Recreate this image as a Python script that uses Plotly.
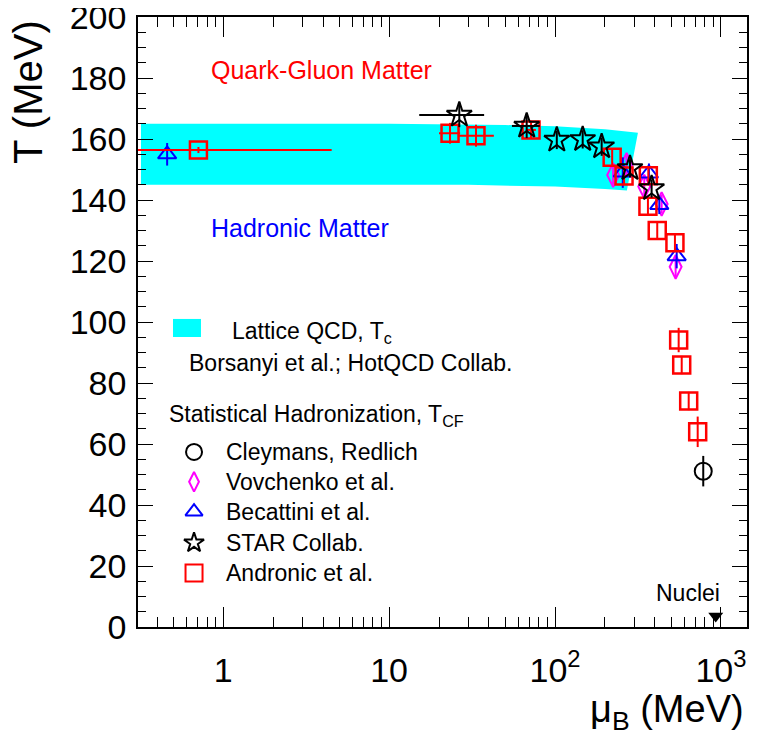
import numpy as np
import plotly.graph_objects as go

# ---------------- data ----------------
# Lattice QCD band (upper edge left->right, lower edge right->left)
band_mu_upper = [0.32, 10, 50, 100, 200, 316]
band_T_upper = [165.0, 165.0, 164.6, 164.2, 163.2, 162.1]
band_mu_lower = [271, 200, 100, 30, 0.32]
band_T_lower = [143.1, 143.6, 144.4, 145.0, 145.0]

# Andronic et al.
andr_mu = [0.71, 23.3, 33.4, 71.7, 221, 260.6, 365, 363, 413, 528, 556, 580, 639, 724]
andr_T = [156.4, 161.9, 161.1, 163.0, 154.0, 147.9, 148.0, 138.0, 130.0, 126.0, 94.1, 85.9, 74.1, 64.0]
andr_Terr = [1, 3.4, 3.6, 3, 3, 3, 3, 3, 3, 3, 4, 3, 3, 5]
andr_mu_errp = [3.8, 3.5, 9.4, 5, 0, 0, 0, 0, 0, 0, 0, 0, 0, 0]
andr_mu_errm = [0.70, 3.3, 7.4, 5, 0, 0, 0, 0, 0, 0, 0, 0, 0, 0]

# STAR Collab.
star_mu = [26.5, 67.5, 102.5, 146.8, 191, 283, 382]
star_T = [167.9, 164.3, 159.7, 159.9, 157.5, 150.4, 143.8]
star_Terr = [4, 4, 3, 3, 3, 3, 3]
star_mu_errp = [10.9, 13.5, 0, 0, 0, 0, 0]
star_mu_errm = [11.3, 12.5, 0, 0, 0, 0, 0]

# Becattini et al.
bec_mu = [0.46, 256, 368, 425, 541]
bec_T = [155.0, 149.0, 148.7, 138.4, 121.6]
bec_Terr = [3.7, 5, 3.3, 3, 4]

# Vovchenko et al.
vov_mu = [224, 270, 345, 439, 533]
vov_T = [148.2, 151.5, 144.4, 138.7, 118.1]
vov_Terr = [3, 3, 3, 3, 3.5]

# Cleymans, Redlich
cle_mu = [782]
cle_T = [51.1]
cle_Terr = [5]

# Nuclei
nuc_mu = [930]
nuc_T = [3.6]

xtick_vals = [1, 10, 100, 1000]
xtick_text = ["1", "10", "10<sup>2</sup>", "10<sup>3</sup>"]
ytick_vals = [0, 20, 40, 60, 80, 100, 120, 140, 160, 180, 200]

# ---------------- figure ----------------
FONT = "Liberation Sans, Arial, Helvetica, sans-serif"
fig = go.Figure()

# band
fig.add_trace(go.Scatter(
    x=band_mu_upper + band_mu_lower,
    y=band_T_upper + band_T_lower,
    fill="toself", fillcolor="#00ffff", mode="lines",
    line=dict(width=0, color="#00ffff"), hoverinfo="skip", showlegend=False))

def add_points(mu, T, terr, symbol, color, size, errp=None, errm=None, lw=2):
    ex = None
    if errp is not None:
        ex = dict(type="data", symmetric=False, array=errp, arrayminus=errm,
                  color=color, thickness=2, width=0)
    fig.add_trace(go.Scatter(
        x=mu, y=T, mode="markers",
        marker=dict(symbol=symbol, size=size, color=color,
                    line=dict(color=color, width=lw)),
        error_y=dict(type="data", array=terr, color=color, thickness=2, width=0),
        error_x=ex, showlegend=False))

add_points(vov_mu, vov_T, vov_Terr, "diamond-tall-open", "#ff00ff", 17)
add_points(bec_mu, bec_T, bec_Terr, "triangle-up-open", "#0000ff", 16)
add_points(andr_mu, andr_T, andr_Terr, "square-open", "#ff0000", 17, andr_mu_errp, andr_mu_errm, lw=2.5)
add_points(star_mu, star_T, star_Terr, "star-open", "#000000", 19, star_mu_errp, star_mu_errm)
add_points(cle_mu, cle_T, cle_Terr, "circle-open", "#000000", 17)

fig.add_trace(go.Scatter(x=nuc_mu, y=nuc_T, mode="markers",
                         marker=dict(symbol="triangle-down", size=13, color="black"),
                         showlegend=False))

# legend symbols on an overlay axis (0..1 paper-like)
leg_x = [0.092] * 5
leg_y = [0.287, 0.238, 0.189, 0.138, 0.0885]
leg_sym = ["circle-open", "diamond-tall-open", "triangle-up-open", "star-open", "square-open"]
leg_col = ["#000000", "#ff00ff", "#0000ff", "#000000", "#ff0000"]
leg_size = [16, 14, 15, 15, 17]
for xx, yy, s, c, sz in zip(leg_x, leg_y, leg_sym, leg_col, leg_size):
    fig.add_trace(go.Scatter(x=[xx], y=[yy], mode="markers", xaxis="x2", yaxis="y2",
                             marker=dict(symbol=s, size=sz, color=c,
                                         line=dict(color=c, width=2)),
                             showlegend=False, hoverinfo="skip"))

fig.add_shape(type="rect", xref="paper", yref="paper",
              x0=0.0575, x1=0.1034, y0=0.4754, y1=0.505,
              fillcolor="#00ffff", line=dict(width=0))

leg_texts = ["Cleymans, Redlich", "Vovchenko et al.", "Becattini et al.",
             "STAR Collab.", "Andronic et al."]
ann = []
for t, yy in zip(leg_texts, leg_y):
    ann.append(dict(text=t, xref="paper", yref="paper", x=0.141, y=yy,
                    xanchor="left", yanchor="middle", showarrow=False,
                    font=dict(size=23, color="black", family=FONT)))
ann += [
    dict(text="Lattice QCD, T<sub>c</sub>", xref="paper", yref="paper", x=0.151, y=0.482,
         xanchor="left", yanchor="middle", showarrow=False,
         font=dict(size=23, color="black", family=FONT)),
    dict(text="Borsanyi et al.; HotQCD Collab.", xref="paper", yref="paper", x=0.0805, y=0.433,
         xanchor="left", yanchor="middle", showarrow=False,
         font=dict(size=23, color="black", family=FONT)),
    dict(text="Statistical Hadronization, T<sub>CF</sub>", xref="paper", yref="paper", x=0.0476, y=0.347,
         xanchor="left", yanchor="middle", showarrow=False,
         font=dict(size=23, color="black", family=FONT)),
    dict(text="Quark-Gluon Matter", xref="x", yref="y", x=np.log10(0.82), y=182.6,
         xanchor="left", yanchor="middle", showarrow=False,
         font=dict(size=25, color="#ff0000", family=FONT)),
    dict(text="Hadronic Matter", xref="x", yref="y", x=np.log10(0.82), y=130.8,
         xanchor="left", yanchor="middle", showarrow=False,
         font=dict(size=25, color="#0000ff", family=FONT)),
    dict(text="Nuclei", xref="x", yref="y", x=np.log10(632), y=11.1,
         xanchor="center", yanchor="middle", showarrow=False,
         font=dict(size=23, color="black", family=FONT)),
    dict(text="μ<sub>B</sub> (MeV)", xref="paper", yref="paper", x=1, y=0,
         xanchor="right", yanchor="top", yshift=-59, xshift=-1, showarrow=False,
         font=dict(size=38, color="black", family=FONT)),
    dict(text="T (MeV)", xref="paper", yref="paper", x=0, y=1, textangle=-90,
         xanchor="right", yanchor="top", xshift=-86, yshift=-1, showarrow=False,
         font=dict(size=40, color="black", family=FONT)),
]

minor_vals = ([0.4, 0.5, 0.6, 0.7, 0.8, 0.9] + list(range(2, 10)) +
              list(range(20, 100, 10)) + list(range(200, 1000, 100)))

fig.update_layout(
    width=760, height=732,
    margin=dict(l=130, r=21, t=9, b=113, autoexpand=False),
    paper_bgcolor="white", plot_bgcolor="white",
    font=dict(family=FONT, color="black"),
    annotations=ann,
    xaxis=dict(type="log", range=[np.log10(0.307), np.log10(1435)], automargin=False,
               tickmode="array", tickvals=xtick_vals, ticktext=xtick_text,
               ticks="inside", ticklen=20, tickwidth=1.3, tickcolor="black",
               minor=dict(tickmode="array", tickvals=minor_vals, ticks="inside",
                          ticklen=10, tickwidth=1.3, tickcolor="black"),
               showline=True, linecolor="black", linewidth=1.5, mirror="allticks",
               showgrid=False, zeroline=False, ticklabeloverflow="allow",
               ticklabelstandoff=12,
               tickfont=dict(size=34, family=FONT, color="black")),
    yaxis=dict(range=[0, 200.02], automargin=False, tickmode="array",
               tickvals=ytick_vals,
               ticks="inside", ticklen=15, tickwidth=1.3, tickcolor="black",
               minor=dict(dtick=5, tick0=0, ticks="inside", ticklen=8, tickwidth=1.3, tickcolor="black"),
               showline=True, linecolor="black", linewidth=1.5, mirror="allticks",
               showgrid=False, zeroline=False, ticklabeloverflow="allow",
               ticklabelstandoff=3,
               tickfont=dict(size=34, family=FONT, color="black")),
    xaxis2=dict(range=[0, 1], overlaying="x", visible=False, fixedrange=True),
    yaxis2=dict(range=[0, 1], overlaying="y", visible=False, fixedrange=True),
)

fig.write_html("out.html")
